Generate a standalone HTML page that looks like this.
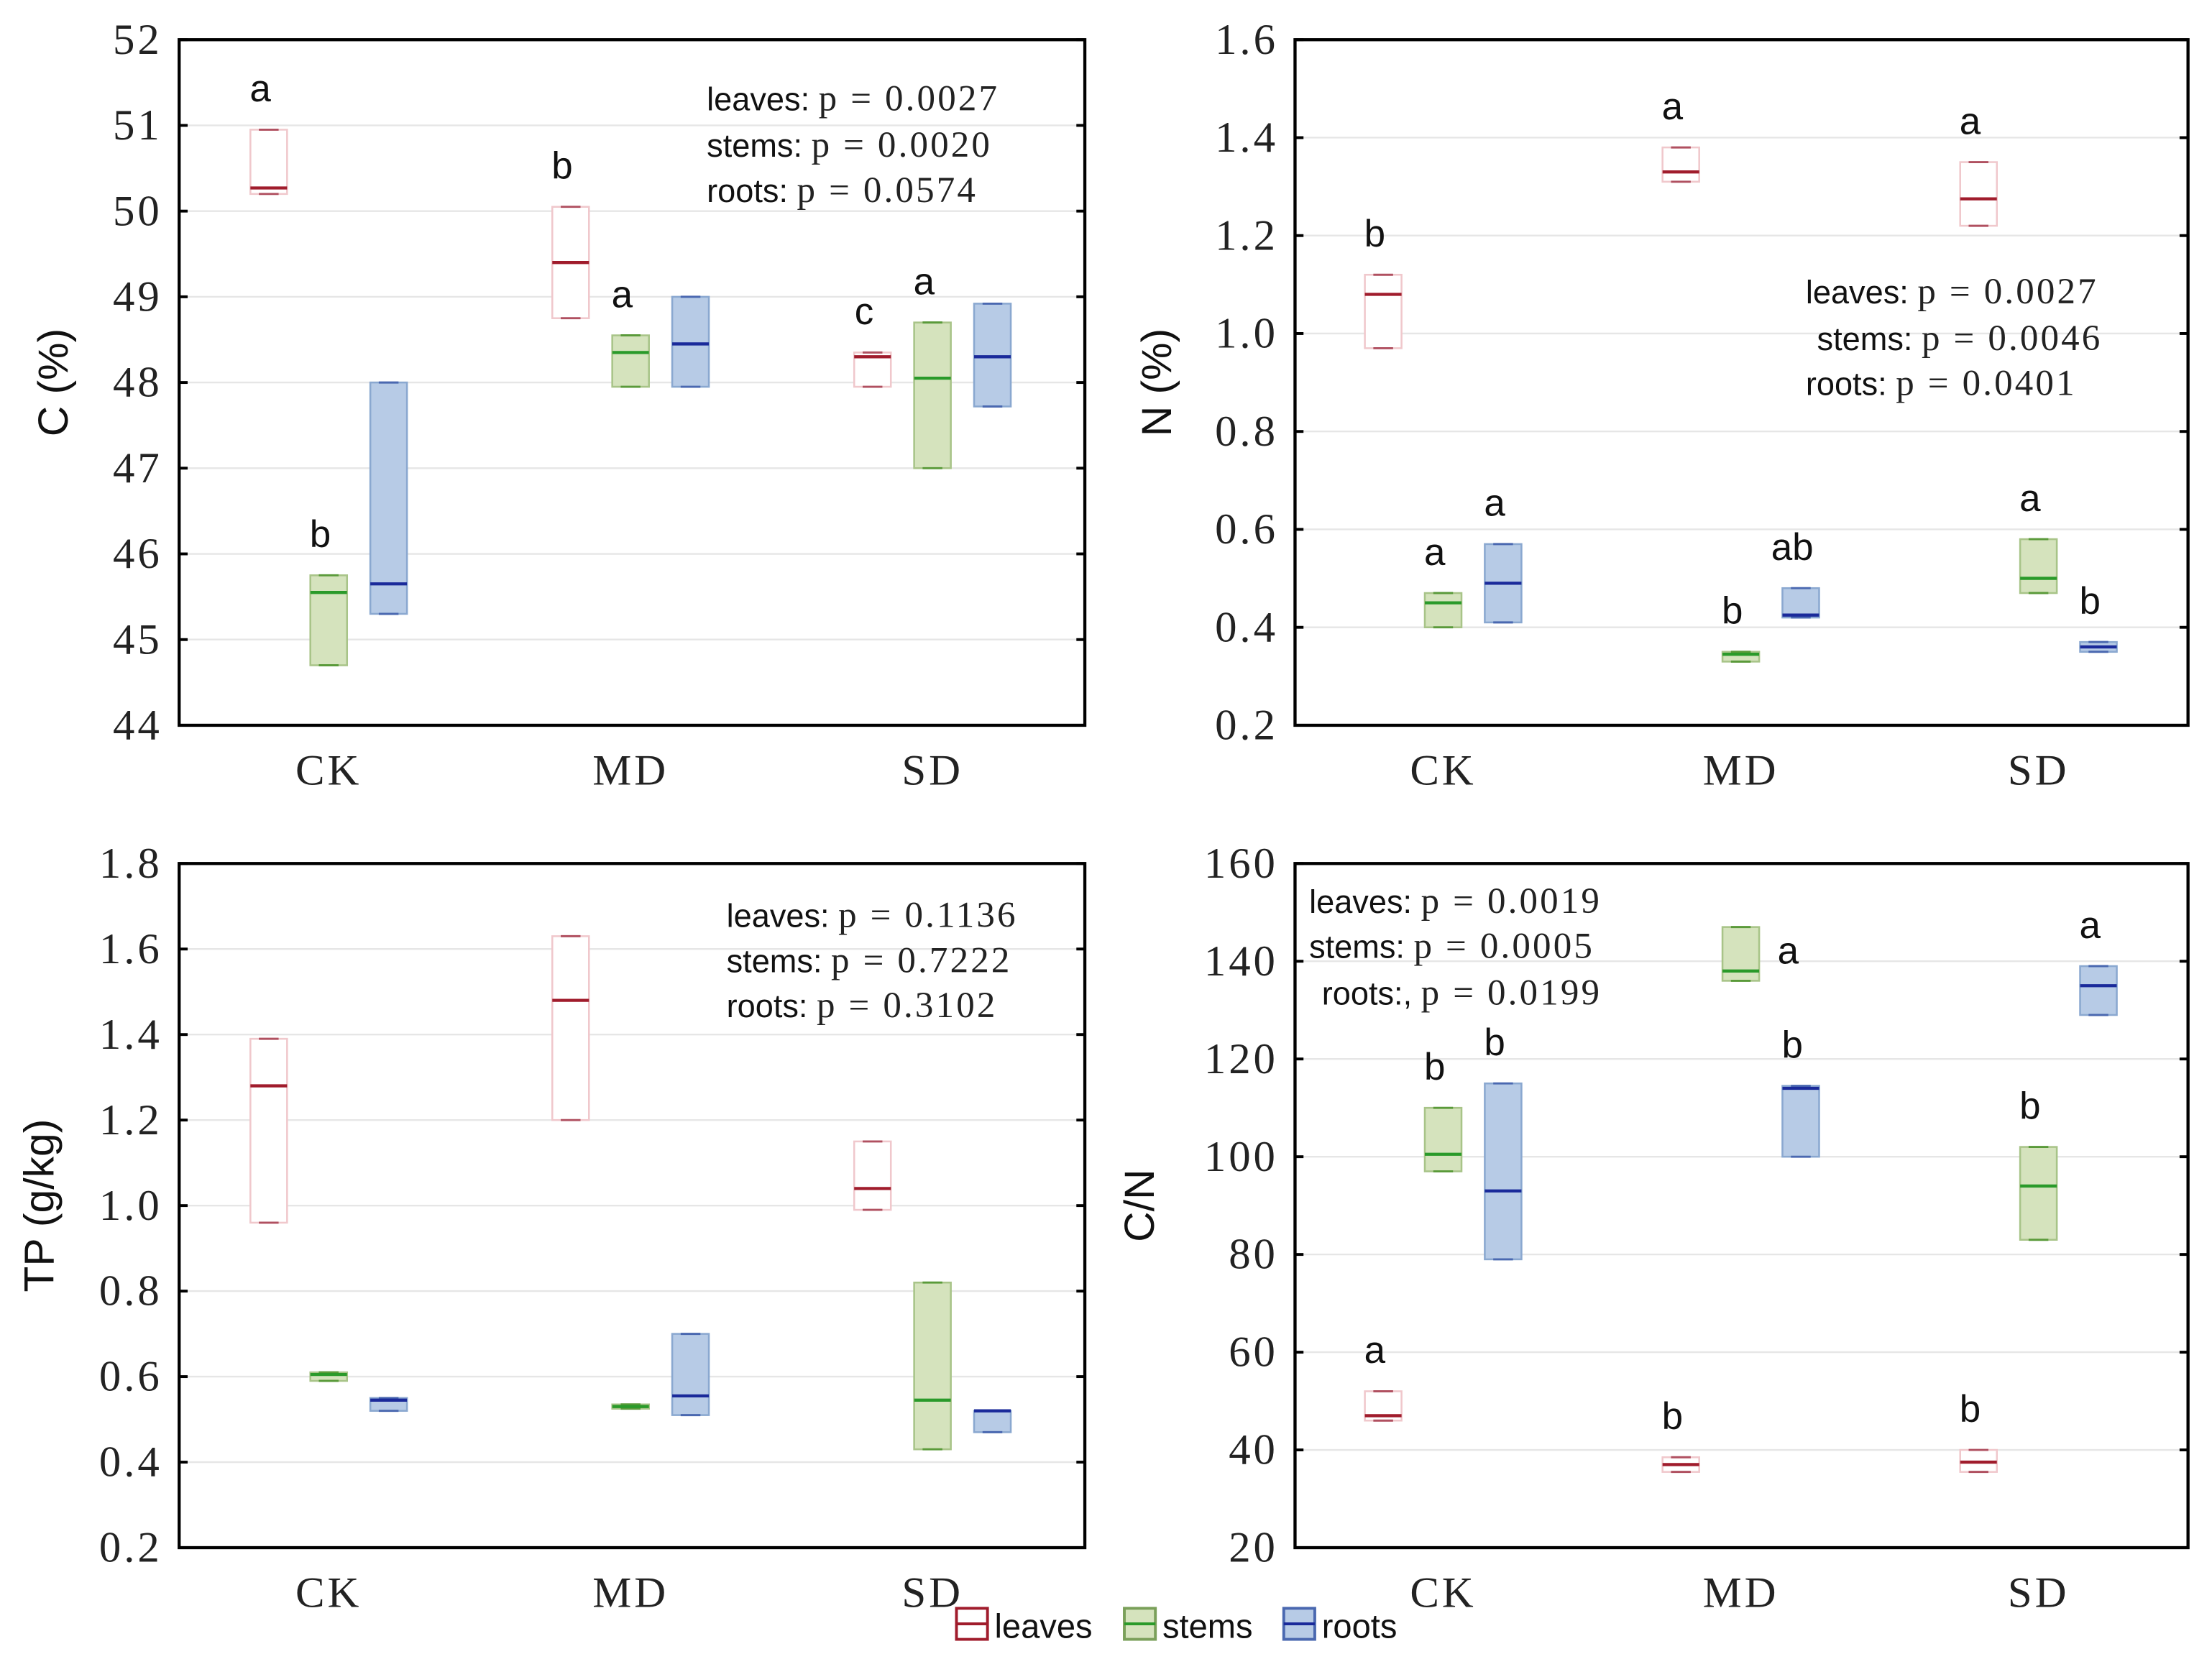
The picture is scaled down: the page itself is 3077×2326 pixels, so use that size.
<!DOCTYPE html>
<html><head><meta charset="utf-8"><style>
html,body{margin:0;padding:0;background:#fff}
svg{display:block}
.tick{font-family:"Liberation Serif",serif;font-size:31px;fill:#222;letter-spacing:2px}
.let{font-family:"Liberation Sans",sans-serif;font-size:27px;fill:#111}
.pl{font-family:"Liberation Sans",sans-serif;font-size:23px;fill:#111}
.pv{font-family:"Liberation Serif",serif;font-size:26px;fill:#222;letter-spacing:1.6px}
.yl{font-family:"Liberation Sans",sans-serif;font-size:30px;fill:#111}
</style></head><body>
<svg id="chart" width="3077" height="2326" viewBox="0 0 1568 1185" xmlns="http://www.w3.org/2000/svg">
<g id="root"></g>
<g>
 <rect x="678" y="1140" width="22" height="22" fill="#fff" stroke="#a01c2c" stroke-width="2"/><line x1="678" y1="1151" x2="700" y2="1151" stroke="#a01c2c" stroke-width="2"/>
 <text x="705" y="1161" class="yl" style="font-size:24px">leaves</text>
 <rect x="797" y="1140" width="22" height="22" fill="#d5e3bd" stroke="#7aa05a" stroke-width="2"/><line x1="797" y1="1151" x2="819" y2="1151" stroke="#2a9a2a" stroke-width="2"/>
 <text x="824" y="1161" class="yl" style="font-size:24px">stems</text>
 <rect x="910" y="1140" width="22" height="22" fill="#b7cbe6" stroke="#4a68b0" stroke-width="2"/><line x1="910" y1="1151" x2="932" y2="1151" stroke="#1a2a9a" stroke-width="2"/>
 <text x="937" y="1161" class="yl" style="font-size:24px">roots</text>
</g>
</svg>
<script>
const categories=["CK","MD","SD"];
const series=["leaves","stems","roots"];
// [min,max,median] per category per series
const cLeaves=[[50.2,50.95,50.27],[48.75,50.05,49.4],[47.95,48.35,48.3]];
const cStems=[[44.7,45.75,45.55],[47.95,48.55,48.35],[47.0,48.7,48.05]];
const cRoots=[[45.3,48.0,45.65],[47.95,49.0,48.45],[47.72,48.92,48.3]];
const cLetters=[["a","b",""],["b","a",""],["c","a",""]];
const cTicks=[44,45,46,47,48,49,50,51,52];
const nLeaves=[[0.97,1.12,1.08],[1.31,1.38,1.33],[1.22,1.35,1.275]];
const nStems=[[0.40,0.47,0.45],[0.33,0.35,0.345],[0.47,0.58,0.50]];
const nRoots=[[0.41,0.57,0.49],[0.42,0.48,0.425],[0.35,0.37,0.36]];
const nLetters=[["b","a","a"],["a","b","ab"],["a","a","b"]];
const nTicks=[0.2,0.4,0.6,0.8,1.0,1.2,1.4,1.6];
const tpLeaves=[[0.96,1.39,1.28],[1.20,1.63,1.48],[0.99,1.15,1.04]];
const tpStems=[[0.59,0.61,0.605],[0.525,0.535,0.53],[0.43,0.82,0.545]];
const tpRoots=[[0.52,0.55,0.545],[0.51,0.70,0.555],[0.47,0.52,0.52]];
const tpLetters=[["","",""],["","",""],["","",""]];
const tpTicks=[0.2,0.4,0.6,0.8,1.0,1.2,1.4,1.6,1.8];
const cnLeaves=[[46,52,47],[35.5,38.5,37],[35.5,40,37.5]];
const cnStems=[[97,110,100.5],[136,147,138],[83,102,94]];
const cnRoots=[[79,115,93],[100,114.5,114],[129,139,135]];
const cnLetters=[["a","b","b"],["b","a>","b"],["b","b","a"]];
const cnTicks=[20,40,60,80,100,120,140,160];

const NS="http://www.w3.org/2000/svg";
const root=document.getElementById('root');
function mk(tag,attrs,parent){const e=document.createElementNS(NS,tag);for(const k in attrs)e.setAttribute(k,attrs[k]);(parent||root).appendChild(e);return e;}
const styles=[{fill:"#fff",stroke:"#f0c8cc",cap:"#b05060",med:"#a01c2c"},{fill:"#d5e3bd",stroke:"#a8c488",cap:"#5a9a3a",med:"#2a9a2a"},{fill:"#b7cbe6",stroke:"#8aa8d0",cap:"#4a68b0",med:"#1a2a9a"}];

function panel(cfg){
 const g=mk('g',{});
 
 
 const {x0,x1,y0,y1,ticks}=cfg;
 const lo=ticks[0],hi=ticks[ticks.length-1];
 const ys=v=>y1-(v-lo)/(hi-lo)*(y1-y0);
 const xs=i=>cfg.c0+i*cfg.step;
 ticks.forEach((t,i)=>{
  const y=ys(t);
  if(i>0&&i<ticks.length-1){const gl=mk('line',{x1:x0,x2:x1,y1:y,y2:y,stroke:"#e6e6e6","stroke-width":1.2},g);}
  mk('line',{x1:x0,x2:x0+6,y1:y,y2:y,stroke:"#000","stroke-width":2},g);
  mk('line',{x1:x1-6,x2:x1,y1:y,y2:y,stroke:"#000","stroke-width":2},g);
  const tl=mk('text',{x:x0-12,y:y+10,"text-anchor":"end",class:"tick"},g);
  
  
  tl.textContent=cfg.fmt(t);
 });
 const fr=mk('rect',{x:x0,y:y0,width:x1-x0,height:y1-y0,fill:"none",stroke:"#000","stroke-width":2.2},g);
 
 categories.forEach((c,i)=>{
  const t=mk('text',{x:xs(i),y:y1+42,"text-anchor":"middle",class:"tick"},g);
  
  
  t.textContent=c;
  [cfg.l,cfg.s,cfg.r].forEach((arr,k)=>{
   const d=arr[i];const st=styles[k];
   const cx=xs(i)+(k-1)*42.5;const w=26;
   const top=ys(d[1]),bot=ys(d[0]),med=ys(d[2]);
   const b=mk('rect',{x:cx-w/2,y:top,width:w,height:Math.max(bot-top,1),fill:st.fill,stroke:st.stroke,"stroke-width":1.3},g);
   
   
   mk('line',{x1:cx-7,x2:cx+7,y1:top,y2:top,stroke:st.cap,"stroke-width":1.5},g);
   mk('line',{x1:cx-7,x2:cx+7,y1:bot,y2:bot,stroke:st.cap,"stroke-width":1.5},g);
   const m=mk('line',{x1:cx-w/2,x2:cx+w/2,y1:med,y2:med,stroke:st.med,"stroke-width":2.2},g);
   
   
   let L=cfg.let[i][k];
   if(L){
    const side=L.endsWith('>');L=L.replace('>','');
    const lt=mk('text',side?{x:cx+26,y:top+26,"text-anchor":"start",class:"let"}:{x:cx-6,y:top-20,"text-anchor":"middle",class:"let"},g);
    
    
    lt.textContent=L;}
  });
 });
 const yl=mk('text',{x:cfg.ylx,y:(y0+y1)/2,"text-anchor":"middle",class:"yl",transform:`rotate(-90 ${cfg.ylx} ${(y0+y1)/2})`},g);
 
 
 yl.textContent=cfg.ylabel;
 cfg.p.forEach((p,j)=>{
  const t=mk('text',{x:p[0],y:p[1]},g);
  
  
  const a=mk('tspan',{class:"pl"},t);a.textContent=p[2];
  const b=mk('tspan',{class:"pv"},t);b.textContent=p[3];
 });
}
const f1=v=>v.toFixed(1), f0=v=>String(v);
panel({name:'panel-carbon',x0:127,x1:769,y0:28,y1:514,ticks:cTicks,fmt:f0,c0:233,step:214,l:cLeaves,s:cStems,r:cRoots,let:cLetters,ylx:48,ylabel:"C (%)",
 p:[[501,78,"leaves: ","p = 0.0027"],[501,111,"stems: ","p = 0.0020"],[501,143,"roots: ","p = 0.0574"]]});
panel({name:'panel-nitrogen',x0:918,x1:1551,y0:28,y1:514,ticks:nTicks,fmt:f1,c0:1023,step:211,l:nLeaves,s:nStems,r:nRoots,let:nLetters,ylx:830,ylabel:"N (%)",
 p:[[1280,215,"leaves: ","p = 0.0027"],[1288,248,"stems: ","p = 0.0046"],[1280,280,"roots: ","p = 0.0401"]]});
panel({name:'panel-phosphorus',x0:127,x1:769,y0:612,y1:1097,ticks:tpTicks,fmt:f1,c0:233,step:214,l:tpLeaves,s:tpStems,r:tpRoots,let:tpLetters,ylx:38,ylabel:"TP (g/kg)",
 p:[[515,657,"leaves: ","p = 0.1136"],[515,689,"stems: ","p = 0.7222"],[515,721,"roots: ","p = 0.3102"]]});
panel({name:'panel-cn-ratio',x0:918,x1:1551,y0:612,y1:1097,ticks:cnTicks,fmt:f0,c0:1023,step:211,l:cnLeaves,s:cnStems,r:cnRoots,let:cnLetters,ylx:818,ylabel:"C/N",
 p:[[928,647,"leaves: ","p = 0.0019"],[928,679,"stems: ","p = 0.0005"],[937,712,"roots:, ","p = 0.0199"]]});
</script>
</body></html>
